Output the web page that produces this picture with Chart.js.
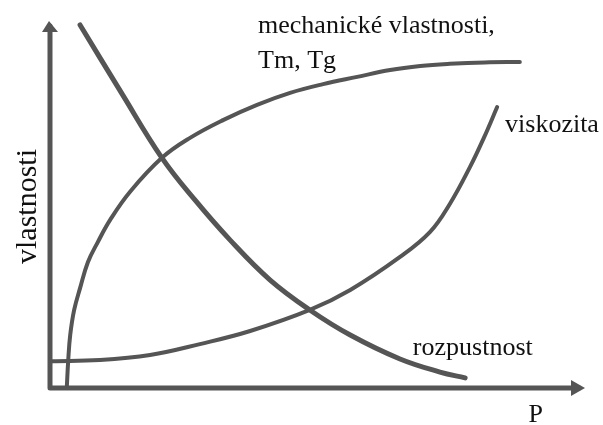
<!DOCTYPE html>
<html>
<head>
<meta charset="utf-8">
<script src="https://cdn.jsdelivr.net/npm/chart.js@4/dist/chart.umd.min.js"></script>
<style>
  html, body { margin: 0; padding: 0; background: #fff; }
</style>
</head>
<body>
<canvas id="sketch" width="603" height="425"></canvas>
<script>
// hodnoty (osa x: 0-100, osa y: 0-100)
const mechX = [3.4, 3.7, 4.1, 4.9, 6.1, 7.7, 9.7, 12.2, 16.2, 22.7, 28.4, 35.1, 42.0, 48.7, 55.4, 62.3, 69.0, 75.1, 81.1, 88.2, 95.3];
const mechY = [0, 7.7, 14.6, 21.5, 27.5, 34.7, 40.2, 46.3, 54.0, 63.4, 68.9, 73.8, 78.0, 81.3, 83.7, 85.7, 87.6, 88.7, 89.3, 89.7, 89.8];

const rozpX = [6.1, 14.4, 22.7, 29.4, 36.5, 44.6, 52.7, 60.9, 71.0, 79.1, 84.2];
const rozpY = [100, 81.5, 63.4, 51.8, 40.8, 29.8, 21.5, 14.6, 8.0, 4.4, 2.8];

const viskX = [0.4, 10.1, 20.3, 30.4, 40.6, 52.7, 60.9, 71.0, 77.1, 81.1, 85.2, 88.0, 90.7];
const viskY = [7.4, 7.7, 9.1, 12.1, 15.7, 21.5, 27.0, 36.1, 43.0, 50.7, 60.9, 68.9, 77.4];

// popisky křivek
const labelTexts = ['mechanické vlastnosti,', 'Tm, Tg', 'viskozita', 'rozpustnost'];
const labelX = [42.2, 42.2, 92.3, 73.6];
const labelY = [97.8, 88.2, 70.5, 9.1];

const axisTitleY = 'vlastnosti';
const axisTitleX = 'P';

const ink = '#555555';
const serif = "'Liberation Serif', 'Times New Roman', Times, 'DejaVu Serif', serif";

function toPoints(xs, ys) {
    return xs.map((x, i) => ({ x: x, y: ys[i] }));
}

function curve(xs, ys, width) {
    return {
        data: toPoints(xs, ys),
        borderColor: ink,
        borderWidth: width,
        borderCapStyle: 'round',
        borderJoinStyle: 'round',
        pointRadius: 0,
        tension: 0.4,
        fill: false,
        clip: false
    };
}

// osy se šipkami a popisky
const sketchPlugin = {
    id: 'sketch',
    afterDatasetsDraw(chart) {
        const ctx = chart.ctx;
        const xs = chart.scales.x;
        const ys = chart.scales.y;
        const x0 = xs.getPixelForValue(0);
        const y0 = ys.getPixelForValue(0);
        const yTop = ys.getPixelForValue(100) - 3;
        const xEnd = xs.getPixelForValue(100) + 42;

        ctx.save();
        ctx.strokeStyle = ink;
        ctx.fillStyle = ink;
        ctx.lineWidth = 5;
        ctx.lineCap = 'round';
        ctx.beginPath();
        ctx.moveTo(x0, y0);
        ctx.lineTo(x0, yTop + 4);
        ctx.moveTo(x0, y0);
        ctx.lineTo(xEnd - 6, y0);
        ctx.stroke();

        // šipka nahoře
        ctx.beginPath();
        ctx.moveTo(x0 - 1, yTop - 1);
        ctx.lineTo(x0 - 8, yTop + 10);
        ctx.lineTo(x0 + 8, yTop + 10);
        ctx.closePath();
        ctx.fill();

        // šipka vpravo
        ctx.beginPath();
        ctx.moveTo(xEnd, y0);
        ctx.lineTo(xEnd - 14, y0 - 8);
        ctx.lineTo(xEnd - 14, y0 + 8);
        ctx.closePath();
        ctx.fill();

        ctx.fillStyle = '#111';
        ctx.font = '26px ' + serif;
        ctx.textAlign = 'left';
        ctx.textBaseline = 'alphabetic';
        labelTexts.forEach((t, i) => {
            ctx.fillText(t, xs.getPixelForValue(labelX[i]), ys.getPixelForValue(labelY[i]));
        });
        ctx.restore();
    }
};

new Chart(document.getElementById('sketch'), {
    type: 'line',
    data: {
        datasets: [
            curve(mechX, mechY, 4),
            curve(rozpX, rozpY, 5),
            curve(viskX, viskY, 4)
        ]
    },
    options: {
        responsive: false,
        animation: false,
        layout: { padding: { top: 25, right: 60, bottom: 0, left: 0 } },
        plugins: {
            legend: { display: false },
            tooltip: { enabled: false }
        },
        scales: {
            x: {
                type: 'linear',
                min: 0,
                max: 100,
                grid: { display: false },
                border: { display: false },
                ticks: { display: false },
                title: {
                    display: true,
                    text: axisTitleX,
                    align: 'end',
                    color: '#111',
                    font: { family: serif, size: 26, lineHeight: 1 },
                    padding: { top: 0, bottom: -3 }
                },
                afterFit(scale) { scale.height = 37; }
            },
            y: {
                type: 'linear',
                min: 0,
                max: 100,
                grid: { display: false },
                border: { display: false },
                ticks: { display: false },
                title: {
                    display: true,
                    text: axisTitleY,
                    color: '#111',
                    font: { family: serif, size: 30, lineHeight: 1.2 },
                    padding: { top: 10, bottom: 0 }
                },
                afterFit(scale) { scale.width = 50; }
            }
        }
    },
    plugins: [sketchPlugin]
});
</script>
</body>
</html>
